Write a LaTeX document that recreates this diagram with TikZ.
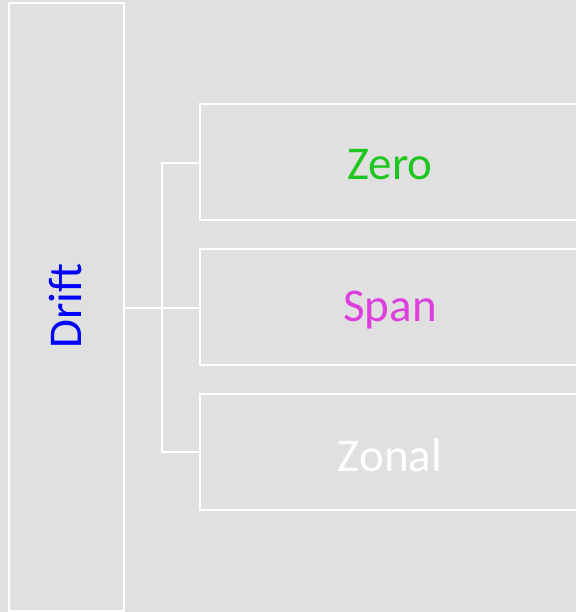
\documentclass[tikz,border=0pt]{standalone}
\usepackage{fontspec}
\setmainfont{Carlito}
\definecolor{bg}{HTML}{E0E0E0}
\definecolor{zerog}{HTML}{1FC61F}
\definecolor{spanm}{HTML}{DD3FDD}
\begin{document}
\begin{tikzpicture}[x=1pt,y=-1pt,
  box/.style={draw=white,line width=2pt,inner sep=0pt},
  lbl/.style={font=\fontsize{47}{56}\selectfont},
  conn/.style={draw=white,line width=2pt}]
\fill[bg] (0,0) rectangle (576,612);
\useasboundingbox (0,0) rectangle (576,612);
\begin{scope}
\clip (0,0) rectangle (576,612);
\draw[box] (8.5,3.5) rectangle (124,611);
\node[lbl,text=blue,rotate=90] (drift) at (66,306) {Drift};
\coordinate (dr) at (124,307.5);
\draw[box] (200,104) rectangle (600,220);
\draw[box] (200,249) rectangle (600,365);
\draw[box] (200,394) rectangle (600,510);
\node[lbl,text=zerog] (zero) at (390,165) {Zero};
\node[lbl,text=spanm] (span) at (390,310) {Span};
\node[lbl,text=white] (zonal) at (390,455) {Zonal};
\coordinate (b1) at (200,163);
\coordinate (b2) at (200,307.5);
\coordinate (b3) at (200,452);
\coordinate (j) at (162,307.5);
\draw[conn] (dr) -- (b2);
\draw[conn] (b1) -- (162,163) -- (162,452) -- (b3);
\end{scope}
\end{tikzpicture}
\end{document}
